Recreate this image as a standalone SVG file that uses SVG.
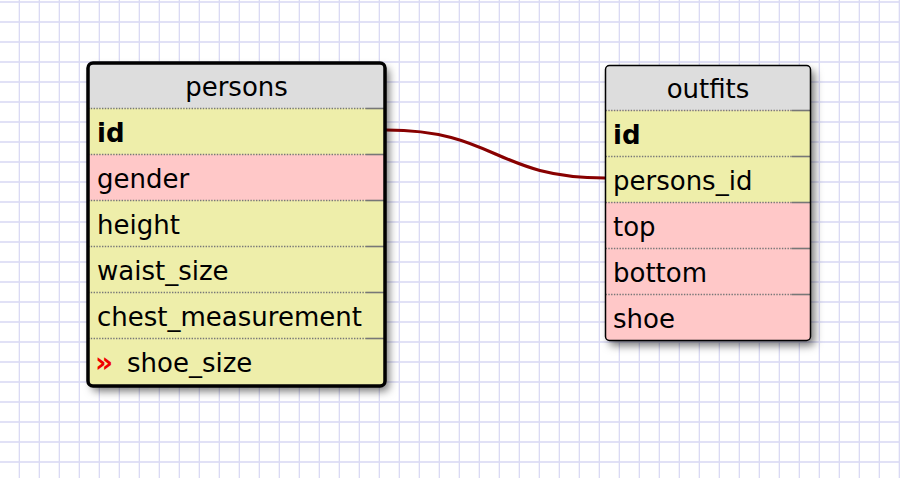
<svg xmlns="http://www.w3.org/2000/svg" width="900" height="478" viewBox="0 0 900 478">
<defs>
<pattern id="grid" x="0" y="0" width="20" height="20" patternUnits="userSpaceOnUse">
<rect width="20" height="20" fill="#fff"/>
<line x1="19.5" y1="0" x2="19.5" y2="20" stroke="#dadaf4" stroke-width="1.6"/>
<line x1="0" y1="2" x2="20" y2="2" stroke="#dadaf4" stroke-width="1.6"/>
</pattern>
<filter id="shadow" x="-10%" y="-10%" width="125%" height="125%">
<feDropShadow dx="4" dy="5" stdDeviation="4" flood-color="#000" flood-opacity="0.55"/>
</filter>
<clipPath id="clipP"><rect x="88" y="63" width="297" height="323" rx="5"/></clipPath>
<clipPath id="clipO"><rect x="605.5" y="65.5" width="205" height="275" rx="4"/></clipPath>
</defs>
<style>
.t{font-family:"DejaVu Sans",Verdana,sans-serif;font-size:26px;fill:#000}
.b{font-weight:bold}
.title{text-anchor:middle}
.y{fill:#eeeeaa}
.p{fill:#ffc8c8}
.h{fill:#dddddd}
.div{stroke:#777;stroke-width:1.3;stroke-dasharray:1.4 1.4}
.dend{stroke:#777;stroke-width:1.6}
.mark{fill:#ee0000;font-weight:bold;font-size:28px}
</style>
<rect width="900" height="478" fill="url(#grid)"/>
<g id="connectors">
<path d="M386,130 C496,130 495,178 605,178" fill="none" stroke="#880000" stroke-width="3.2"/>
</g>
<g id="persons">
<rect x="88" y="63" width="297" height="323" rx="5" fill="#eeeeaa" filter="url(#shadow)"/>
<g clip-path="url(#clipP)">
<rect class="h" x="88" y="63" width="297" height="45.5"/>
<rect class="y" x="88" y="108.5" width="297" height="46"/>
<rect class="p" x="88" y="154.5" width="297" height="46"/>
<rect class="y" x="88" y="200.5" width="297" height="186"/>
</g>
<g>
<line class="div" x1="88" y1="108.5" x2="366" y2="108.5"/><line class="dend" x1="366" y1="108.5" x2="385" y2="108.5"/>
<line class="div" x1="88" y1="154.5" x2="366" y2="154.5"/><line class="dend" x1="366" y1="154.5" x2="385" y2="154.5"/>
<line class="div" x1="88" y1="200.5" x2="366" y2="200.5"/><line class="dend" x1="366" y1="200.5" x2="385" y2="200.5"/>
<line class="div" x1="88" y1="246.5" x2="366" y2="246.5"/><line class="dend" x1="366" y1="246.5" x2="385" y2="246.5"/>
<line class="div" x1="88" y1="292.5" x2="366" y2="292.5"/><line class="dend" x1="366" y1="292.5" x2="385" y2="292.5"/>
<line class="div" x1="88" y1="338.5" x2="366" y2="338.5"/><line class="dend" x1="366" y1="338.5" x2="385" y2="338.5"/>
</g>
<rect x="88" y="63" width="297" height="323" rx="5" fill="none" stroke="#000" stroke-width="3.5"/>
<text class="t title" x="236.5" y="96">persons</text>
<text class="t b" x="97" y="141.5">id</text>
<text class="t" x="97" y="187.5">gender</text>
<text class="t" x="97" y="233.5">height</text>
<text class="t" x="97" y="279.5">waist_size</text>
<text class="t" x="97" y="325.5">chest_measurement</text>
<text class="t mark" x="95" y="372">»</text>
<text class="t" x="127" y="371.5">shoe_size</text>
</g>
<g id="outfits">
<rect x="605.5" y="65.5" width="205" height="275" rx="4" fill="#ffc8c8" filter="url(#shadow)"/>
<g clip-path="url(#clipO)">
<rect class="h" x="605.5" y="65.5" width="205" height="45"/>
<rect class="y" x="605.5" y="110.5" width="205" height="92"/>
<rect class="p" x="605.5" y="202.5" width="205" height="138"/>
</g>
<g>
<line class="div" x1="605.5" y1="110.5" x2="792" y2="110.5"/><line class="dend" x1="792" y1="110.5" x2="810.5" y2="110.5"/>
<line class="div" x1="605.5" y1="156.5" x2="792" y2="156.5"/><line class="dend" x1="792" y1="156.5" x2="810.5" y2="156.5"/>
<line class="div" x1="605.5" y1="202.5" x2="792" y2="202.5"/><line class="dend" x1="792" y1="202.5" x2="810.5" y2="202.5"/>
<line class="div" x1="605.5" y1="248.5" x2="792" y2="248.5"/><line class="dend" x1="792" y1="248.5" x2="810.5" y2="248.5"/>
<line class="div" x1="605.5" y1="294.5" x2="792" y2="294.5"/><line class="dend" x1="792" y1="294.5" x2="810.5" y2="294.5"/>
</g>
<rect x="605.5" y="65.5" width="205" height="275" rx="4" fill="none" stroke="#000" stroke-width="1.5"/>
<text class="t title" x="708" y="97.5">outfits</text>
<text class="t b" x="613" y="143.5">id</text>
<text class="t" x="613" y="189.5">persons_id</text>
<text class="t" x="613" y="235.5">top</text>
<text class="t" x="613" y="281.5">bottom</text>
<text class="t" x="613" y="327.5">shoe</text>
</g>
</svg>
